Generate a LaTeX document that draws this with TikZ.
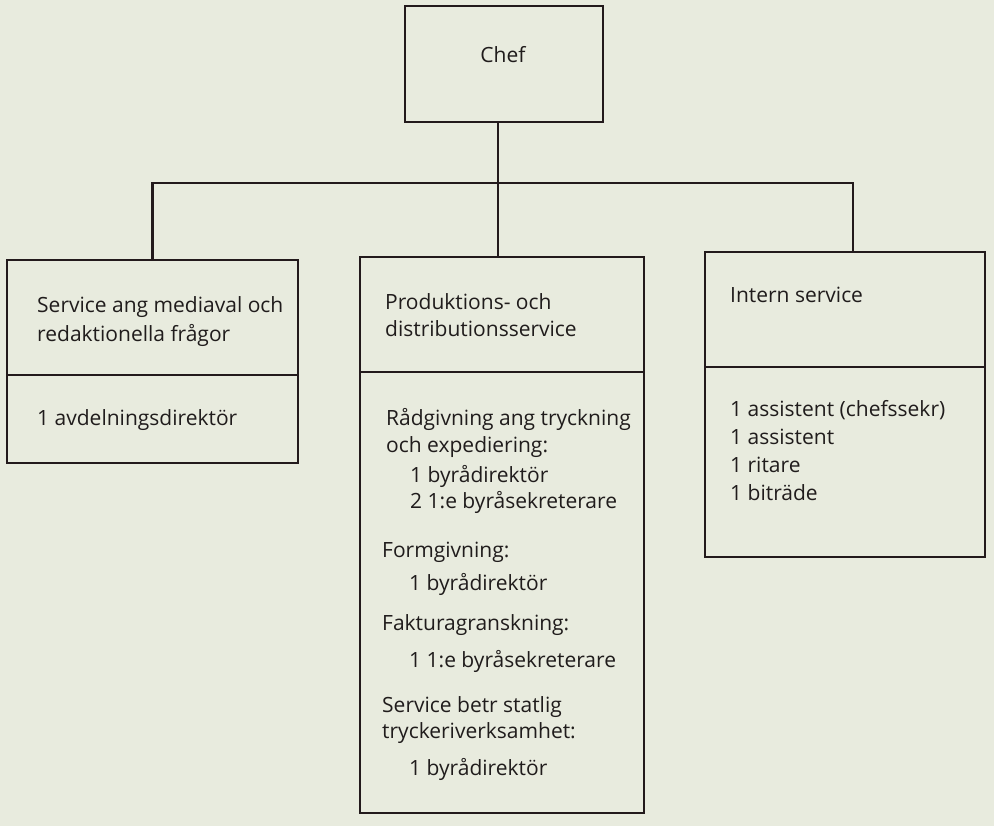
\documentclass[tikz,border=0pt]{standalone}
\usepackage{fontspec}
\setmainfont{Open Sans}
\definecolor{paper}{RGB}{232,235,222}
\definecolor{ink}{RGB}{35,26,28}
\definecolor{txt}{RGB}{32,28,28}
\begin{document}
\begin{tikzpicture}[x=1pt,y=-1pt,
  box/.style={draw=ink,line width=2.6pt,inner sep=0pt,outer sep=0pt,rectangle},
  conn/.style={draw=ink,line width=2.6pt},
  lbl/.style={anchor=base west,inner sep=0pt,text=txt,font=\fontsize{21}{25}\selectfont}]
\fill[paper] (0,0) rectangle (994,826);
\useasboundingbox (0,0) rectangle (994,826);
% boxes
\node[box,minimum width=198pt,minimum height=116pt] (chef) at (504,64) {};
\node[box,minimum width=291pt,minimum height=203pt] (left) at (152.5,361.5) {};
\node[box,minimum width=284pt,minimum height=556pt] (mid) at (502,535) {};
\node[box,minimum width=280pt,minimum height=305pt] (right) at (845,404.5) {};
% dividers
\draw[conn] (left.west |- 0,375) -- (left.east |- 0,375);
\draw[conn] (mid.west |- 0,372) -- (mid.east |- 0,372);
\draw[conn] (right.west |- 0,367) -- (right.east |- 0,367);
% connectors
\coordinate (bus) at (498,183);
\draw[conn] (chef.south -| bus) -- (mid.north -| bus);
\draw[conn] (left.north) |- (bus) -| ([xshift=8pt]right.north);
% texts
\node[lbl,anchor=base] (tchef) at (503,63) {Chef};
\node[lbl] (l1) at (37,313) {Service ang mediaval och};
\node[lbl] (l2) at (37,342) {redaktionella frågor};
\node[lbl] (l3) at (37,425) {1 avdelningsdirektör};
\node[lbl] (m1) at (385,310) {Produktions- och};
\node[lbl] (m2) at (385,337) {distributionsservice};
\node[lbl] (m3) at (386,425) {Rådgivning ang tryckning};
\node[lbl] (m4) at (386,452) {och expediering:};
\node[lbl] (m5) at (410,482) {1 byrådirektör};
\node[lbl] (m6) at (410,508) {2 1:e byråsekreterare};
\node[lbl] (m7) at (382,557) {Formgivning:};
\node[lbl] (m8) at (409,590) {1 byrådirektör};
\node[lbl] (m9) at (382,630) {Fakturagranskning:};
\node[lbl] (m10) at (409,667) {1 1:e byråsekreterare};
\node[lbl] (m11) at (382,712) {Service betr statlig};
\node[lbl] (m12) at (382,738) {tryckeriverksamhet:};
\node[lbl] (m13) at (409,775) {1 byrådirektör};
\node[lbl] (r1) at (730,303) {Intern service};
\node[lbl] (r2) at (730,417) {1 assistent (chefssekr)};
\node[lbl] (r3) at (730,445) {1 assistent};
\node[lbl] (r4) at (730,472) {1 ritare};
\node[lbl] (r5) at (730,500) {1 biträde};
\end{tikzpicture}
\end{document}
